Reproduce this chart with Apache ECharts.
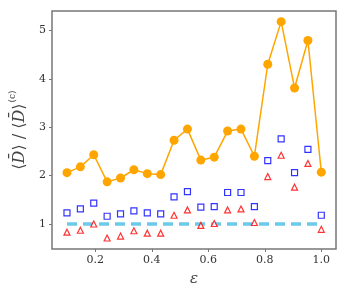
<!DOCTYPE html>
<html><head><meta charset="utf-8">
<script src="https://cdn.jsdelivr.net/npm/echarts@6/dist/echarts.min.js"></script>
<style>html,body{margin:0;padding:0;background:#fff}#c{width:348px;height:294px}</style>
</head><body><div id="c"></div>
<script>
const eps = [0.1,0.1474,0.1947,0.2421,0.2895,0.3368,0.3842,0.4316,0.4789,0.5263,0.5737,0.6211,0.6684,0.7158,0.7632,0.8105,0.8579,0.9053,0.9526,1.0];
const orange = [2.06,2.18,2.43,1.87,1.95,2.12,2.04,2.02,2.73,2.96,2.32,2.38,2.92,2.96,2.40,4.30,5.18,3.81,4.79,2.07];
const blue = [1.23,1.31,1.43,1.16,1.21,1.27,1.23,1.21,1.56,1.67,1.35,1.36,1.65,1.65,1.36,2.31,2.76,2.06,2.54,1.18];
const red = [0.83,0.87,1.00,0.71,0.75,0.86,0.81,0.81,1.18,1.29,0.97,1.01,1.29,1.31,1.03,1.98,2.42,1.76,2.25,0.89];
const refX = [0.1,1.0];
const refY = [1,1];
const xTicks = [0.2,0.4,0.6,0.8,1.0];
const yTicks = [1,2,3,4,5];

const zip = (a,b)=>a.map((v,i)=>[v,b[i]]);
const chart = echarts.init(document.getElementById('c'));
const serif = 'DejaVu Serif';
chart.setOption({
  animation:false,
  grid:{left:43,right:12,top:11,bottom:45,show:true,borderColor:'#777',borderWidth:1.5,backgroundColor:'transparent'},
  xAxis:{type:'value',min:0.047,max:1.052,
    axisLine:{show:false},splitLine:{show:false},
    axisTick:{show:true,length:3,customValues:xTicks,lineStyle:{color:'#777'}},
    axisLabel:{customValues:xTicks,formatter:v=>v.toFixed(1),fontFamily:serif,fontSize:11,color:'#333',margin:6},
    name:'ε',nameLocation:'middle',nameGap:23,nameTextStyle:{fontFamily:serif,fontStyle:'italic',fontSize:15,color:'#444'}},
  yAxis:{type:'value',min:0.483,max:5.4,
    axisLine:{show:false},splitLine:{show:false},
    axisTick:{show:true,length:3,customValues:yTicks,lineStyle:{color:'#777'}},
    axisLabel:{customValues:yTicks,fontFamily:serif,fontSize:11,color:'#333',margin:6},
    name:'⟨{i|D̄}⟩ / ⟨{i|D̄}⟩{s|(c)}',nameLocation:'middle',nameGap:21,nameRotate:90,
    nameTextStyle:{fontFamily:serif,fontSize:16,color:'#444',
      rich:{i:{fontFamily:serif,fontStyle:'italic',fontSize:16,color:'#444'},
            s:{fontFamily:serif,fontSize:9,color:'#444',padding:[0,0,14,1]}}}},
  series:[
    {type:'line',data:zip(refX,refY),symbol:'none',lineStyle:{color:'#6cc9ea',width:3.5,type:[10,6]},z:1},
    {type:'line',data:zip(eps,orange),symbol:'circle',symbolSize:9,itemStyle:{color:'#ffa500'},lineStyle:{color:'#ffa500',width:1.5},z:3},
    {type:'scatter',data:zip(eps,blue),symbol:'rect',symbolSize:6,itemStyle:{color:'#fff',borderColor:'#0000ff',borderWidth:1.2},z:2},
    {type:'scatter',data:zip(eps,red),symbol:'triangle',symbolSize:6,itemStyle:{color:'#fff',borderColor:'#ff0000',borderWidth:1.2},z:2}
  ]
});
</script></body></html>
